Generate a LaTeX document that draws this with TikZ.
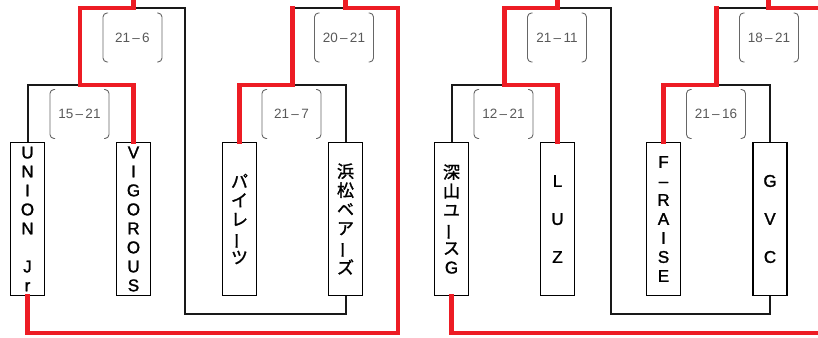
\documentclass[tikz,border=0pt]{standalone}
\usepackage{fontspec}
\setmainfont{Liberation Sans}
\newfontfamily\teamfont[FakeBold=1.5]{Liberation Sans}
\newfontfamily\jpfont[FakeBold=1.5]{Noto Sans CJK JP}
\usetikzlibrary{calc}
\definecolor{winred}{RGB}{237,28,36}
\newcommand\tatebar{\rotatebox[origin=c]{90}{ー}}

\begin{document}
\begin{tikzpicture}[
  x=1pt, y=-1pt,
  team/.style={
    draw, line width=1.8pt, align=center,
    minimum width=34pt, minimum height=153pt, inner sep=0pt,
    font=\fontsize{17}{19}\selectfont\teamfont
  },
  teamjp/.style={team, font=\fontsize{17}{19}\selectfont\jpfont},
  score/.style={
    font=\fontsize{13.5}{15}\selectfont, text=black!65,
    minimum width=61pt, minimum height=51pt, inner sep=0pt,
    path picture={
      \draw[black!60, line width=0.9pt, rounded corners=4pt]
        ([xshift=6pt,yshift=-1pt]path picture bounding box.north west)
        -| ([xshift=1pt,yshift=1pt]path picture bounding box.south west) -- ++(5pt,0);
      \draw[black!60, line width=0.9pt, rounded corners=4pt]
        ([xshift=-6pt,yshift=-1pt]path picture bounding box.north east)
        -| ([xshift=-1pt,yshift=1pt]path picture bounding box.south east) -- ++(-5pt,0);
    }
  },
  bracket/.style={draw=black!90, line width=2pt},
  winner/.style ={draw=winred, line width=4.3pt, line cap=rect}
]
\clip (0,0) rectangle (818,337);

% =================== LEVELS ===================
\coordinate (edge) at (0,-6);
\coordinate (low)  at (0,314);
\coordinate (out)  at (0,333);

% =================== TEAMS ===================
\node[team]   (union)     at ( 27.5,219) {U\\N\\I\\O\\N\\[19pt]J\\r};
\node[team]   (vigorous)  at (133.5,219) {V\\I\\G\\O\\R\\O\\U\\S};
\node[teamjp] (pirates)   at (239.5,219) {パ\\イ\\レ\\\tatebar\\ツ};
\node[teamjp] (hamamatsu) at (345.5,219) {浜\\松\\ベ\\ア\\\tatebar\\ズ};

\node[teamjp] (fukayama)  at (451.5,219) {深\\山\\ユ\\\tatebar\\ス\\{\teamfont G}};
\node[team]   (luz)       at (557.5,219) {L\\[19pt]U\\[19pt]Z};
\node[team]   (fraise)    at (663.5,219) {F\\–\\R\\A\\I\\S\\E};
\node[team]   (gvc)       at (770.0,219) {G\\[19pt]V\\[19pt]C};

% =================== MATCH POINTS ===================
\coordinate (ma) at ( 80.0,85);
\coordinate (mb) at (292.5,85);
\coordinate (mc) at (504.5,85);
\coordinate (md) at (716.5,85);

\coordinate (sa) at (133.5,8);  \coordinate (sa end) at (185.0,8);
\coordinate (sb) at (345.5,8);  \coordinate (sb end) at (398.0,8);
\coordinate (sc) at (557.5,8);  \coordinate (sc end) at (610.5,8);
\coordinate (sd) at (768.5,8);  \coordinate (sd end) at (824.0,8);

% =================== SCORES ===================
\node[score] (scoreA) at (132.5, 37.5) {21\,–\,6};
\node[score] (scoreB) at ( 79.5,114.0) {15\,–\,21};
\node[score] (scoreC) at (344.0, 37.5) {20\,–\,21};
\node[score] (scoreD) at (291.5,114.0) {21\,–\,7};
\node[score] (scoreE) at (557.0, 37.5) {21\,–\,11};
\node[score] (scoreF) at (503.5,114.0) {12\,–\,21};
\node[score] (scoreG) at (769.0, 37.5) {18\,–\,21};
\node[score] (scoreH) at (716.0,114.0) {21\,–\,16};

% =================== BLACK LINES ===================
\draw[bracket] (union.north)     |- (ma);
\draw[bracket] (hamamatsu.north) |- (mb);
\draw[bracket] (sa) -- (sa end) -- (sa end |- low) -| (hamamatsu.south);
\draw[bracket] (mb |- sb) -- (sb);

\draw[bracket] (fukayama.north) |- (mc);
\draw[bracket] (gvc.north)      |- (md);
\draw[bracket] (sc) -- (sc end) -- (sc end |- low) -| (gvc.south);
\draw[bracket] (md |- sd) -- (sd);

% =================== RED LINES ===================
\draw[winner] (vigorous.north) |- (ma) -- (ma |- sa) -- (sa) -- (sa |- edge);
\draw[winner] (pirates.north)  |- (mb) -- (mb |- sb);
\draw[winner] (sb |- edge) -- (sb) -- (sb end) -- (sb end |- out) -| (union.south);

\draw[winner] (luz.north)    |- (mc) -- (mc |- sc) -- (sc) -- (sc |- edge);
\draw[winner] (fraise.north) |- (md) -- (md |- sd);
\draw[winner] (sd |- edge) -- (sd) -- (sd end) -- (sd end |- out) -| (fukayama.south);

\end{tikzpicture}
\end{document}
